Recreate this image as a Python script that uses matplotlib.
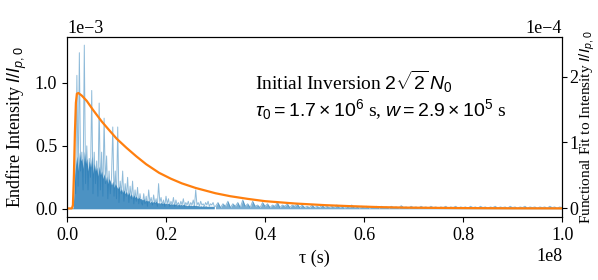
import numpy as np
import matplotlib
matplotlib.use("Agg")
import matplotlib.pyplot as plt

plt.rcParams['font.family'] = ['Liberation Serif', 'DejaVu Serif']
plt.rcParams['mathtext.fontset'] = 'custom'
plt.rcParams['mathtext.rm'] = 'Liberation Sans'
plt.rcParams['mathtext.it'] = 'Liberation Sans:italic'
plt.rcParams['mathtext.bf'] = 'Liberation Sans:bold'
plt.rcParams['font.size'] = 13

# Endfire intensity trace (units of 1e-3), two sampling segments
# segment A: tau = 0 .. 0.2975e8, step 0.0025e8 -> peaks and dense core
endfire_a = [0, 0, 0, 0, 0, 0.02,
             0.35, 0.12, 1.06, 0.18, 1.24, 0.3, 0.45, 0.15, 1.30, 0.2,
             0.5, 0.15, 0.4, 0.25, 0.94, 0.12, 0.45, 0.2, 0.38, 0.1,
             0.84, 0.15, 0.45, 0.1, 0.72, 0.2, 0.42, 0.08, 0.3, 0.12,
             0.25, 0.65, 0.1, 0.3, 0.08, 0.65, 0.05, 0.22, 0.12, 0.3,
             0.06, 0.2, 0.1, 0.25, 0.05, 0.18, 0.08, 0.22, 0.04, 0.15,
             0.06, 0.17, 0.04, 0.12, 0.05,
             0.03, 0.12, 0.04, 0.10, 0.02, 0.15, 0.05, 0.09, 0.03, 0.11,
             0.04, 0.08, 0.02, 0.20, 0.05, 0.09, 0.03, 0.07, 0.02, 0.10,
             0.04, 0.08, 0.02, 0.06, 0.03, 0.09, 0.02, 0.07, 0.03, 0.05,
             0.02, 0.06, 0.03, 0.08, 0.02, 0.05, 0.03, 0.06, 0.02, 0.05,
             0.03, 0.07, 0.02, 0.15, 0.03, 0.05, 0.02, 0.06, 0.03, 0.04,
             0.02, 0.05, 0.03, 0.06, 0.02, 0.04, 0.03, 0.05, 0.02]
core_a = [0, 0, 0, 0, 0, 0.01,
          0.2, 0.35, 0.42, 0.3, 0.45, 0.38, 0.4, 0.32, 0.46, 0.36,
          0.4, 0.3, 0.38, 0.33, 0.42, 0.28, 0.36, 0.3, 0.33, 0.26,
          0.34, 0.27, 0.3, 0.24, 0.28, 0.22, 0.26, 0.2, 0.24, 0.22,
          0.19, 0.22, 0.17, 0.2, 0.18, 0.16, 0.18, 0.14, 0.16, 0.13,
          0.15, 0.12, 0.14, 0.11, 0.13, 0.1, 0.12, 0.09, 0.11, 0.09,
          0.1, 0.08, 0.09, 0.08,
          0.08, 0.07, 0.08, 0.06, 0.07, 0.06, 0.07, 0.05, 0.06, 0.05,
          0.06, 0.05, 0.06, 0.045, 0.05, 0.045, 0.05, 0.04, 0.05, 0.04,
          0.045, 0.04, 0.045, 0.035, 0.04, 0.035, 0.04, 0.035, 0.04, 0.03,
          0.035, 0.03, 0.035, 0.03, 0.035, 0.03, 0.03, 0.025, 0.03, 0.025,
          0.03, 0.025, 0.03, 0.025, 0.03, 0.025, 0.025, 0.02, 0.025, 0.02,
          0.025, 0.02, 0.025, 0.02, 0.02, 0.02, 0.02, 0.02, 0.02, 0.02]
# segment B: tau = 0.3 .. 1.0e8, step 0.005e8
endfire_b = [0.02, 0.05, 0.01, 0.04, 0.02, 0.06, 0.01, 0.04, 0.02, 0.05,
             0.01, 0.07, 0.02, 0.04, 0.01, 0.06, 0.02, 0.03, 0.01, 0.05,
             0.02, 0.04, 0.01, 0.03, 0.02, 0.05, 0.01, 0.03, 0.02, 0.04,
             0.01, 0.03, 0.02, 0.04, 0.01, 0.03, 0.01, 0.02, 0.01, 0.03,
             0.01, 0.02, 0.01, 0.03, 0.01, 0.02, 0.01, 0.02, 0.01, 0.03,
             0.01, 0.02, 0.005, 0.02, 0.01, 0.03, 0.01, 0.02, 0.005, 0.02,
             0.01, 0.02, 0.005, 0.015, 0.01, 0.02, 0.005, 0.02, 0.01, 0.015,
             0.005, 0.02, 0.01, 0.015, 0.005, 0.025, 0.01, 0.015, 0.005, 0.02,
             0.01, 0.015, 0.005, 0.02, 0.01, 0.015, 0.005, 0.02, 0.01, 0.015,
             0.005, 0.015, 0.01, 0.02, 0.005, 0.015, 0.01, 0.02, 0.005, 0.015,
             0.01, 0.015, 0.005, 0.02, 0.01, 0.015, 0.005, 0.02, 0.01, 0.015,
             0.005, 0.015, 0.01, 0.02, 0.005, 0.015, 0.01, 0.015, 0.005, 0.02,
             0.01, 0.015, 0.005, 0.015, 0.01, 0.02, 0.005, 0.015, 0.01, 0.015,
             0.005, 0.015, 0.01, 0.015, 0.005, 0.02, 0.01, 0.015, 0.005, 0.015,
             0.01]

# Functional fit (tau in 1e8 s, intensity in 1e-4)
fit_tau = [0, 0.010, 0.012, 0.014, 0.016, 0.018, 0.020, 0.023, 0.03, 0.04,
           0.052, 0.07, 0.086, 0.10, 0.12, 0.14, 0.16, 0.186, 0.21, 0.232,
           0.26, 0.30, 0.33, 0.365, 0.40, 0.46, 0.52, 0.57, 0.63, 0.685,
           0.8, 0.9, 1.0]
fit_val = [0, 0, 0.05, 0.5, 1.15, 1.6, 1.74, 1.75, 1.71, 1.63,
           1.50, 1.32, 1.18, 1.06, 0.92, 0.79, 0.67, 0.54, 0.45, 0.38,
           0.31, 0.23, 0.185, 0.145, 0.11, 0.075, 0.05, 0.035, 0.02, 0.012,
           0.005, 0.002, 0.001]

tau_a = np.arange(len(endfire_a)) * 0.0025e8
tau_b = 0.3e8 + np.arange(len(endfire_b)) * 0.005e8
tau = np.concatenate([tau_a, tau_b])
endfire = np.array(endfire_a + endfire_b) * 1e-3

fig = plt.figure(figsize=(5.98, 2.8), dpi=100)
ax = fig.add_axes([0.112, 0.225, 0.828, 0.643])
ax.fill_between(tau_a, 0, np.array(core_a) * 1e-3, color='tab:blue', alpha=0.8, lw=0)
ax.fill_between(tau_b, 0, np.array(endfire_b) * 1e-3, color='tab:blue', alpha=0.6, lw=0)
ax.plot(tau, endfire, color='tab:blue', lw=0.7, alpha=0.5)
ax.set_xlim(0, 1e8)
ax.set_ylim(-0.065e-3, 1.365e-3)
ax.set_xlabel('τ (s)', labelpad=4)
ax.set_ylabel('Endfire Intensity $I/I_{p,0}$', labelpad=4)
ax.ticklabel_format(axis='y', style='sci', scilimits=(0, 0))

ax2 = ax.twinx()
ax2.plot(np.array(fit_tau) * 1e8, np.array(fit_val) * 1e-4, color='tab:orange', lw=1.6)
ax2.set_ylim(-0.13e-4, 2.6e-4)
ax2.tick_params(axis='y', pad=1.5)
ax2.set_ylabel('Functional Fit to Intensity $I/I_{p,0}$', fontsize=11)
ax2.ticklabel_format(axis='y', style='sci', scilimits=(0, 0))
# keep the right label inside the canvas: anchor its right edge in figure coords
ax2.yaxis.label.set(ha='right', va='center', rotation_mode='default')
ax2.yaxis.set_label_coords(0.998, 0.545, transform=fig.transFigure)

ax.text(0.38, 0.705, 'Initial Inversion $2\\sqrt{2}\\,N_0$', transform=ax.transAxes,
        fontsize=14)
ax.text(0.38, 0.56, '$\\tau_0 = 1.7 \\times 10^6$ s, $w = 2.9 \\times 10^5$ s',
        transform=ax.transAxes, fontsize=14)

fig.savefig('out.png', dpi=100)
